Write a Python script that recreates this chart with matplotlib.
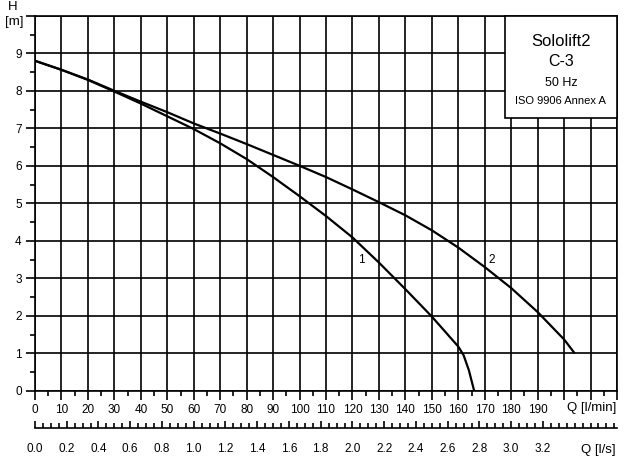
import matplotlib
matplotlib.use("Agg")
import matplotlib.pyplot as plt
from matplotlib.patches import Rectangle
import numpy as np

plt.rcParams['font.family'] = ['Liberation Sans', 'DejaVu Sans']

# Curve 1 (l/min, m)
q1 = [0, 10, 20, 30, 40, 50, 60, 70, 80, 90, 100, 110, 120, 130, 140, 150, 160, 162, 164, 166]
h1 = [8.8, 8.56, 8.29, 7.98, 7.66, 7.32, 6.98, 6.6, 6.18, 5.7, 5.19, 4.66, 4.09, 3.42, 2.71, 1.98, 1.18, 0.95, 0.55, 0.0]
# Curve 2
q2 = [0, 10, 20, 30, 40, 50, 60, 70, 80, 90, 100, 110, 120, 130, 140, 150, 160, 170, 180, 190, 200, 204]
h2 = [8.8, 8.56, 8.3, 8.0, 7.71, 7.43, 7.13, 6.86, 6.58, 6.29, 6.0, 5.7, 5.37, 5.03, 4.68, 4.28, 3.82, 3.3, 2.74, 2.1, 1.37, 1.0]

x_ticks = list(range(0, 230, 10))
x_labels = [str(v) if v <= 190 else "" for v in x_ticks]
y_ticks = list(range(0, 11))
y_labels = [str(v) if v <= 9 else "" for v in y_ticks]
ls_ticks = [round(0.2 * i, 1) for i in range(0, 17)]
ls_labels = [f"{v:.1f}" for v in ls_ticks]
info_lines = ["Sololift2", "C-3", "50 Hz", "ISO 9906 Annex A"]

W, H = 628, 463
fig = plt.figure(figsize=(W / 100, H / 100), dpi=100)
ax = fig.add_axes([35 / W, 1 - 390.8 / H, (617 - 35) / W, (390.8 - 15.8) / H])
ax.set_xlim(0, 220)
ax.set_ylim(0, 10)

ax.set_xticks(x_ticks)
ax.set_xticklabels(x_labels)
ax.set_xticks(np.arange(0, 221, 5), minor=True)
ax.set_yticks(y_ticks)
ax.set_yticklabels(y_labels)
ax.set_yticks(np.arange(0, 10.01, 0.5), minor=True)
ax.grid(True, which='major', color='black', lw=1.2)
ax.tick_params(which='major', length=6.5, width=1.2, pad=3, labelsize=8.5, color='black')
ax.tick_params(which='minor', length=3.6, width=1.2, color='black')
for s in ax.spines.values():
    s.set_color('black')
    s.set_linewidth(1.2)

ax.plot(q1, h1, color='black', lw=1.6, zorder=3, solid_capstyle='butt')
ax.plot(q2, h2, color='black', lw=1.6, zorder=3, solid_capstyle='butt')
ax.text(123.5, 3.5, "1", fontsize=8.5, ha='center', va='center')
ax.text(172.5, 3.5, "2", fontsize=8.5, ha='center', va='center')

# info box
ax.add_patch(Rectangle((177.6, 7.27), 220 - 177.6, 10 - 7.27, facecolor='white',
                       edgecolor='black', lw=1.2, zorder=4, clip_on=False))
ys = [9.31, 8.77, 8.21, 7.73]
sizes = [12, 11.5, 9, 8]
for t, y, s in zip(info_lines, ys, sizes):
    ax.text(198.8, y, t, fontsize=s, ha='center', va='center', zorder=5)

# secondary axis l/s
sec = ax.secondary_xaxis(-(428 - 390.8) / 375, functions=(lambda x: x / 60, lambda x: x * 60))
sec.set_xticks(ls_ticks)
sec.set_xticklabels(ls_labels)
sec.set_xticks(np.arange(0, 3.66, 0.05), minor=True)
sec.tick_params(which='major', direction='in', length=5, width=1.2, pad=11, labelsize=8.5)
sec.tick_params(which='minor', direction='in', length=3.5, width=1.2)
sec.spines['bottom'].set_linewidth(1.2)

fig.text(616 / W, 1 - 408 / H, "Q [l/min]", fontsize=9.5, ha='right', va='center')
fig.text(616 / W, 1 - 450 / H, "Q [l/s]", fontsize=9.5, ha='right', va='center')
fig.text(13 / W, 1 - 7 / H, "H", fontsize=9.5, ha='center', va='center')
fig.text(14 / W, 1 - 22 / H, "[m]", fontsize=9.5, ha='center', va='center')

fig.savefig("out.png", dpi=100, facecolor='white')
